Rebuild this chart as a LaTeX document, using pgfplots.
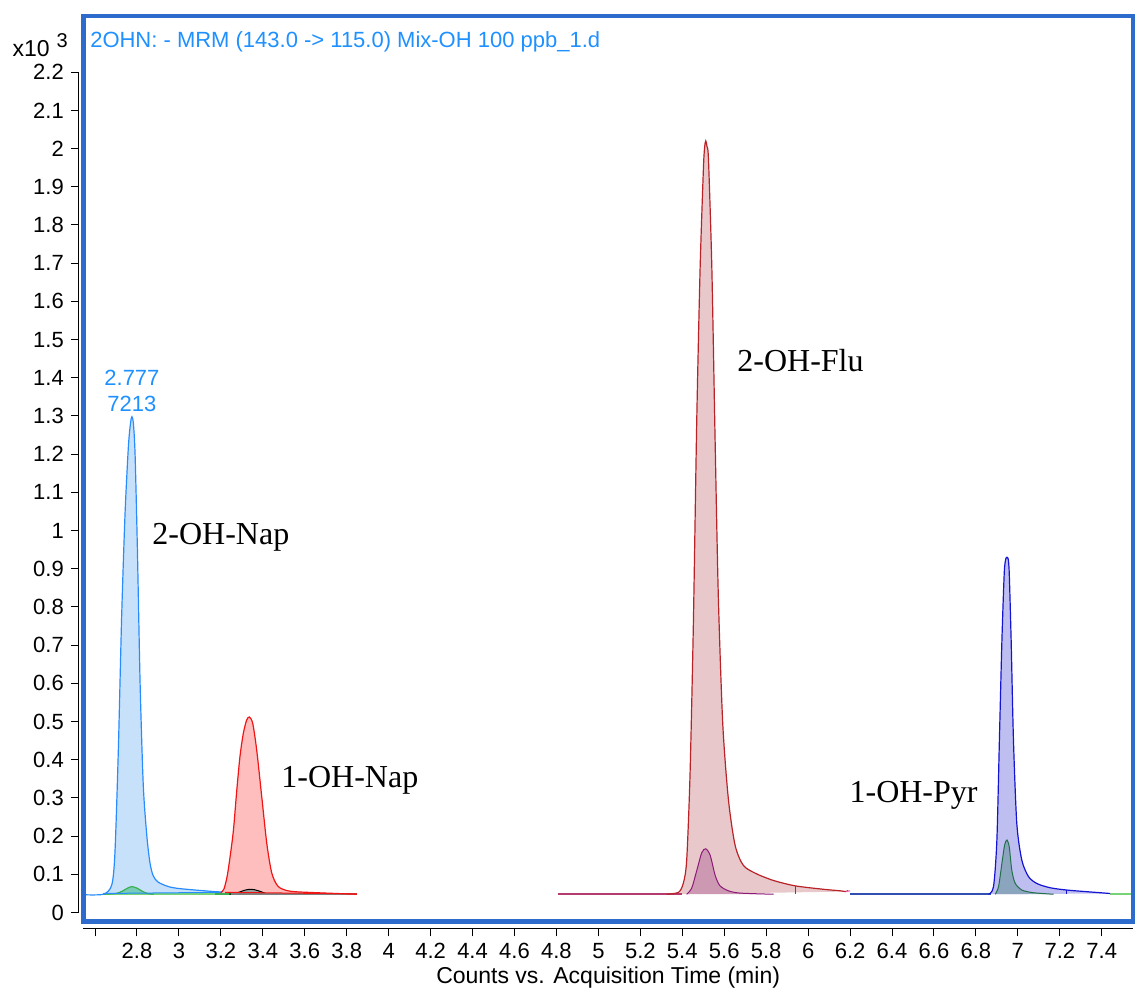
\documentclass[border=0pt]{standalone}
\usepackage{fontspec}
\setmainfont{Liberation Sans}
\newfontfamily\labelserif{Liberation Serif}
\usepackage{pgfplots}
\pgfplotsset{compat=1.18}

\definecolor{frameblue}{RGB}{45,108,205}
\definecolor{titleblue}{RGB}{30,144,255}
\definecolor{napline}{RGB}{40,140,255}
\definecolor{napfill}{RGB}{200,225,250}
\definecolor{onapline}{RGB}{240,20,20}
\definecolor{onapfill}{RGB}{255,190,190}
\definecolor{fluline}{RGB}{185,35,40}
\definecolor{flufill}{RGB}{232,200,202}
\definecolor{purpline}{RGB}{140,25,120}
\definecolor{purpfill}{RGB}{205,152,178}
\definecolor{pyrline}{RGB}{20,20,210}
\definecolor{pyrfill}{RGB}{190,190,240}
\definecolor{grnline}{RGB}{35,110,75}
\definecolor{grnfill}{RGB}{140,165,190}
\definecolor{lgreen}{RGB}{120,210,120}
\definecolor{mgreen}{RGB}{60,175,80}
\definecolor{tealfill}{RGB}{120,205,185}
\definecolor{basemauve}{RGB}{180,60,110}
\definecolor{baseblue}{RGB}{50,80,180}

\tikzset{
  peak/.style={smooth, tension=0.45},
  peakname/.style={anchor=west, inner sep=0pt, font=\labelserif\fontsize{16}{18}\selectfont},
}

\begin{document}
\begin{tikzpicture}
\begin{axis}[
  scale only axis, width=525pt, height=453pt,
  xmin=2.544, xmax=7.549, ymin=-0.024, ymax=2.347,
  axis x line*=bottom, axis y line*=left,
  axis x line shift=3.3pt, axis y line shift=2.2pt,
  axis line style={-, black, line width=0.5pt},
  y axis line style={draw=none},
  xtick={2.6,2.8,3.0,3.2,3.4,3.6,3.8,4.0,4.2,4.4,4.6,4.8,5.0,5.2,5.4,5.6,5.8,6.0,6.2,6.4,6.6,6.8,7.0,7.2,7.4},
  xticklabels={,2.8,3,3.2,3.4,3.6,3.8,4,4.2,4.4,4.6,4.8,5,5.2,5.4,5.6,5.8,6,6.2,6.4,6.6,6.8,7,7.2,7.4},
  ytick={0,0.1,0.2,0.3,0.4,0.5,0.6,0.7,0.8,0.9,1.0,1.1,1.2,1.3,1.4,1.5,1.6,1.7,1.8,1.9,2.0,2.1,2.2},
  yticklabels={0,0.1,0.2,0.3,0.4,0.5,0.6,0.7,0.8,0.9,1,1.1,1.2,1.3,1.4,1.5,1.6,1.7,1.8,1.9,2,2.1,2.2},
  tick align=outside, major tick length=4pt,
  tick style={black, line width=0.5pt},
  ticklabel style={font=\fontsize{11}{13}\selectfont},
  xlabel={Counts vs. Acquisition Time (min)},
  xlabel style={font=\fontsize{11.5}{13}\selectfont, yshift=3pt},
]
% 2-OH-Nap segment
\addplot[peak, draw=none, fill=napfill] coordinates {
 (2.640,0.048) (2.680,0.073) (2.695,0.157) (2.711,0.422) (2.727,0.776) (2.743,1.042)
 (2.759,1.219) (2.769,1.280) (2.776,1.298) (2.783,1.280) (2.791,1.200) (2.802,0.953)
 (2.815,0.599) (2.830,0.334) (2.847,0.201) (2.862,0.130) (2.877,0.097) (2.900,0.080)
 (2.950,0.068) (3.000,0.063) (3.100,0.058) (3.200,0.054)} -- cycle;
\addplot[peak, draw=none, fill=tealfill] coordinates {
 (2.700,0.050) (2.730,0.056) (2.755,0.064) (2.776,0.068) (2.800,0.064) (2.825,0.056)
 (2.850,0.050) (2.880,0.049)} -- cycle;
\addplot[lgreen, line width=1.2pt] coordinates {(2.640,0.048) (3.170,0.048)};
\addplot[mgreen, line width=1.2pt] coordinates {(3.170,0.048) (3.250,0.048)};
\addplot[peak, mgreen, line width=0.6pt] coordinates {
 (2.640,0.048) (2.700,0.050) (2.730,0.056) (2.755,0.064) (2.776,0.068) (2.800,0.064)
 (2.825,0.056) (2.850,0.050) (2.880,0.048)};
\addplot[peak, napline, line width=0.6pt] coordinates {
 (2.530,0.047) (2.640,0.048) (2.680,0.073) (2.695,0.157) (2.711,0.422) (2.727,0.776)
 (2.743,1.042) (2.759,1.219) (2.769,1.280) (2.776,1.298) (2.783,1.280) (2.791,1.200)
 (2.802,0.953) (2.815,0.599) (2.830,0.334) (2.847,0.201) (2.862,0.130) (2.877,0.097)
 (2.900,0.080) (2.950,0.068) (3.000,0.063) (3.100,0.058) (3.200,0.054) (3.225,0.057)
 (3.238,0.066) (3.248,0.078)};
\addplot[napline, line width=0.5pt] coordinates {(2.640,0.050) (3.200,0.053)};
% 1-OH-Nap segment
\addplot[peak, draw=none, fill=onapfill] coordinates {
 (3.200,0.052) (3.215,0.062) (3.230,0.095) (3.244,0.146) (3.260,0.216) (3.276,0.321)
 (3.291,0.408) (3.307,0.469) (3.323,0.504) (3.336,0.512) (3.352,0.495) (3.371,0.425)
 (3.395,0.303) (3.419,0.181) (3.443,0.103) (3.474,0.068) (3.530,0.056) (3.657,0.052)
 (3.848,0.048)} -- cycle;
\addplot[peak, draw=black, fill=gray!75, line width=0.5pt] coordinates {
 (3.240,0.048) (3.280,0.052) (3.310,0.058) (3.336,0.061) (3.360,0.060) (3.390,0.055)
 (3.420,0.049) (3.450,0.048)};
\addplot[gray, line width=1pt] coordinates {(3.250,0.048) (3.848,0.048)};
\addplot[peak, onapline, line width=0.6pt] coordinates {
 (3.200,0.052) (3.215,0.062) (3.230,0.095) (3.244,0.146) (3.260,0.216) (3.276,0.321)
 (3.291,0.408) (3.307,0.469) (3.323,0.504) (3.336,0.512) (3.352,0.495) (3.371,0.425)
 (3.395,0.303) (3.419,0.181) (3.443,0.103) (3.474,0.068) (3.530,0.056) (3.657,0.052)
 (3.848,0.048)};
\addplot[onapline, line width=0.5pt] coordinates {(3.220,0.053) (3.848,0.049)};
% 2-OH-Flu segment
\addplot[peak, draw=none, fill=flufill] coordinates {
 (5.360,0.048) (5.382,0.053) (5.405,0.077) (5.421,0.137) (5.437,0.362) (5.453,0.759)
 (5.469,1.289) (5.485,1.686) (5.501,1.951) (5.507,2.005) (5.512,2.020) (5.518,2.005)
 (5.525,1.970) (5.541,1.686) (5.557,1.223) (5.572,0.825) (5.593,0.494) (5.620,0.296)
 (5.652,0.176) (5.692,0.123) (5.756,0.101) (5.835,0.084) (5.938,0.070) (6.073,0.061)
 (6.153,0.057) (6.180,0.055)} -- cycle;
\addplot[peak, draw=purpline, fill=purpfill, line width=0.5pt] coordinates {
 (5.421,0.048) (5.445,0.064) (5.469,0.110) (5.493,0.157) (5.512,0.167) (5.533,0.150)
 (5.557,0.097) (5.580,0.070) (5.620,0.057) (5.676,0.051) (5.835,0.048)};
\addplot[basemauve, line width=0.8pt] coordinates {(4.806,0.048) (5.400,0.048)};
\addplot[peak, fluline, line width=0.6pt] coordinates {
 (5.326,0.048) (5.382,0.053) (5.405,0.077) (5.421,0.137) (5.437,0.362) (5.453,0.759)
 (5.469,1.289) (5.485,1.686) (5.501,1.951) (5.507,2.005) (5.512,2.020) (5.518,2.005)
 (5.525,1.970) (5.541,1.686) (5.557,1.223) (5.572,0.825) (5.593,0.494) (5.620,0.296)
 (5.652,0.176) (5.692,0.123) (5.756,0.101) (5.835,0.084) (5.938,0.070) (6.073,0.061)
 (6.153,0.057) (6.180,0.055) (6.190,0.058)};
\addplot[fluline, line width=0.6pt] coordinates {(5.938,0.048) (5.938,0.070)};
\addplot[magenta!60, line width=0.6pt] coordinates {(6.180,0.055) (6.200,0.057)};
% 1-OH-Pyr segment
\addplot[peak, draw=none, fill=pyrfill] coordinates {
 (6.860,0.048) (6.884,0.068) (6.900,0.190) (6.912,0.452) (6.924,0.713) (6.935,0.888)
 (6.942,0.925) (6.948,0.930) (6.954,0.925) (6.959,0.888) (6.968,0.713) (6.979,0.452)
 (6.995,0.233) (7.019,0.137) (7.051,0.094) (7.091,0.076) (7.154,0.065) (7.233,0.059)
 (7.345,0.054) (7.440,0.050)} -- cycle;
\addplot[peak, draw=grnline, fill=grnfill, line width=0.5pt] coordinates {
 (6.892,0.048) (6.908,0.068) (6.924,0.129) (6.937,0.177) (6.948,0.190) (6.959,0.172)
 (6.971,0.111) (6.987,0.077) (7.019,0.059) (7.074,0.052) (7.170,0.048)};
\addplot[baseblue, line width=0.8pt] coordinates {(6.200,0.048) (6.870,0.048)};
\addplot[lgreen, line width=1pt] coordinates {(7.440,0.048) (7.560,0.048)};
\addplot[peak, pyrline, line width=0.6pt] coordinates {
 (6.860,0.048) (6.884,0.068) (6.900,0.190) (6.912,0.452) (6.924,0.713) (6.935,0.888)
 (6.942,0.925) (6.948,0.930) (6.954,0.925) (6.959,0.888) (6.968,0.713) (6.979,0.452)
 (6.995,0.233) (7.019,0.137) (7.051,0.094) (7.091,0.076) (7.154,0.065) (7.233,0.059)
 (7.345,0.054) (7.440,0.050)};
\addplot[pyrline, line width=0.6pt] coordinates {(7.233,0.048) (7.233,0.059)};
% peak names
\node[peakname] at (axis cs:2.872,0.983) {2-OH-Nap};
\node[peakname] at (axis cs:3.487,0.347) {1-OH-Nap};
\node[peakname] at (axis cs:5.661,1.446) {2-OH-Flu};
\node[peakname] at (axis cs:6.196,0.308) {1-OH-Pyr};
% retention time and area of the first peak
\node[titleblue, font=\fontsize{11}{13}\selectfont, align=center] at (axis cs:2.776,1.365) {2.777\\7213};
% chromatogram title
\node[anchor=west, titleblue, font=\fontsize{11}{13}\selectfont, inner sep=0pt] at ([shift={(3.3pt,-13pt)}]rel axis cs:0,1) {2OHN: - MRM (143.0 -> 115.0) Mix-OH 100 ppb\_1.d};
\coordinate (SW) at (rel axis cs:0,0);
\coordinate (NE) at (rel axis cs:1,1);
\coordinate (NW) at (rel axis cs:0,1);
\coordinate (Y0) at (axis cs:2.544,0);
\coordinate (Y1) at (axis cs:2.544,2.2);
\end{axis}
% y axis line over the labelled range
\draw[black, line width=0.5pt] ([xshift=-2.2pt]Y0) -- ([xshift=-2.2pt]Y1);
% scale factor of the counts
\node[anchor=west, font=\fontsize{11.5}{13}\selectfont, inner sep=0pt] at ([shift={(-35.5pt,-14.5pt)}]NW) {x10\hspace{0.3em}\raisebox{0.75ex}{\fontsize{10}{12}\selectfont 3}};
% frame of the plot area
\draw[frameblue, line width=2.3pt] (SW) rectangle (NE);
\pgfresetboundingbox
\path[use as bounding box] ([shift={(-41.65pt,-34.15pt)}]SW) rectangle ([shift={(1.5pt,8pt)}]NE);
\end{tikzpicture}
\end{document}
